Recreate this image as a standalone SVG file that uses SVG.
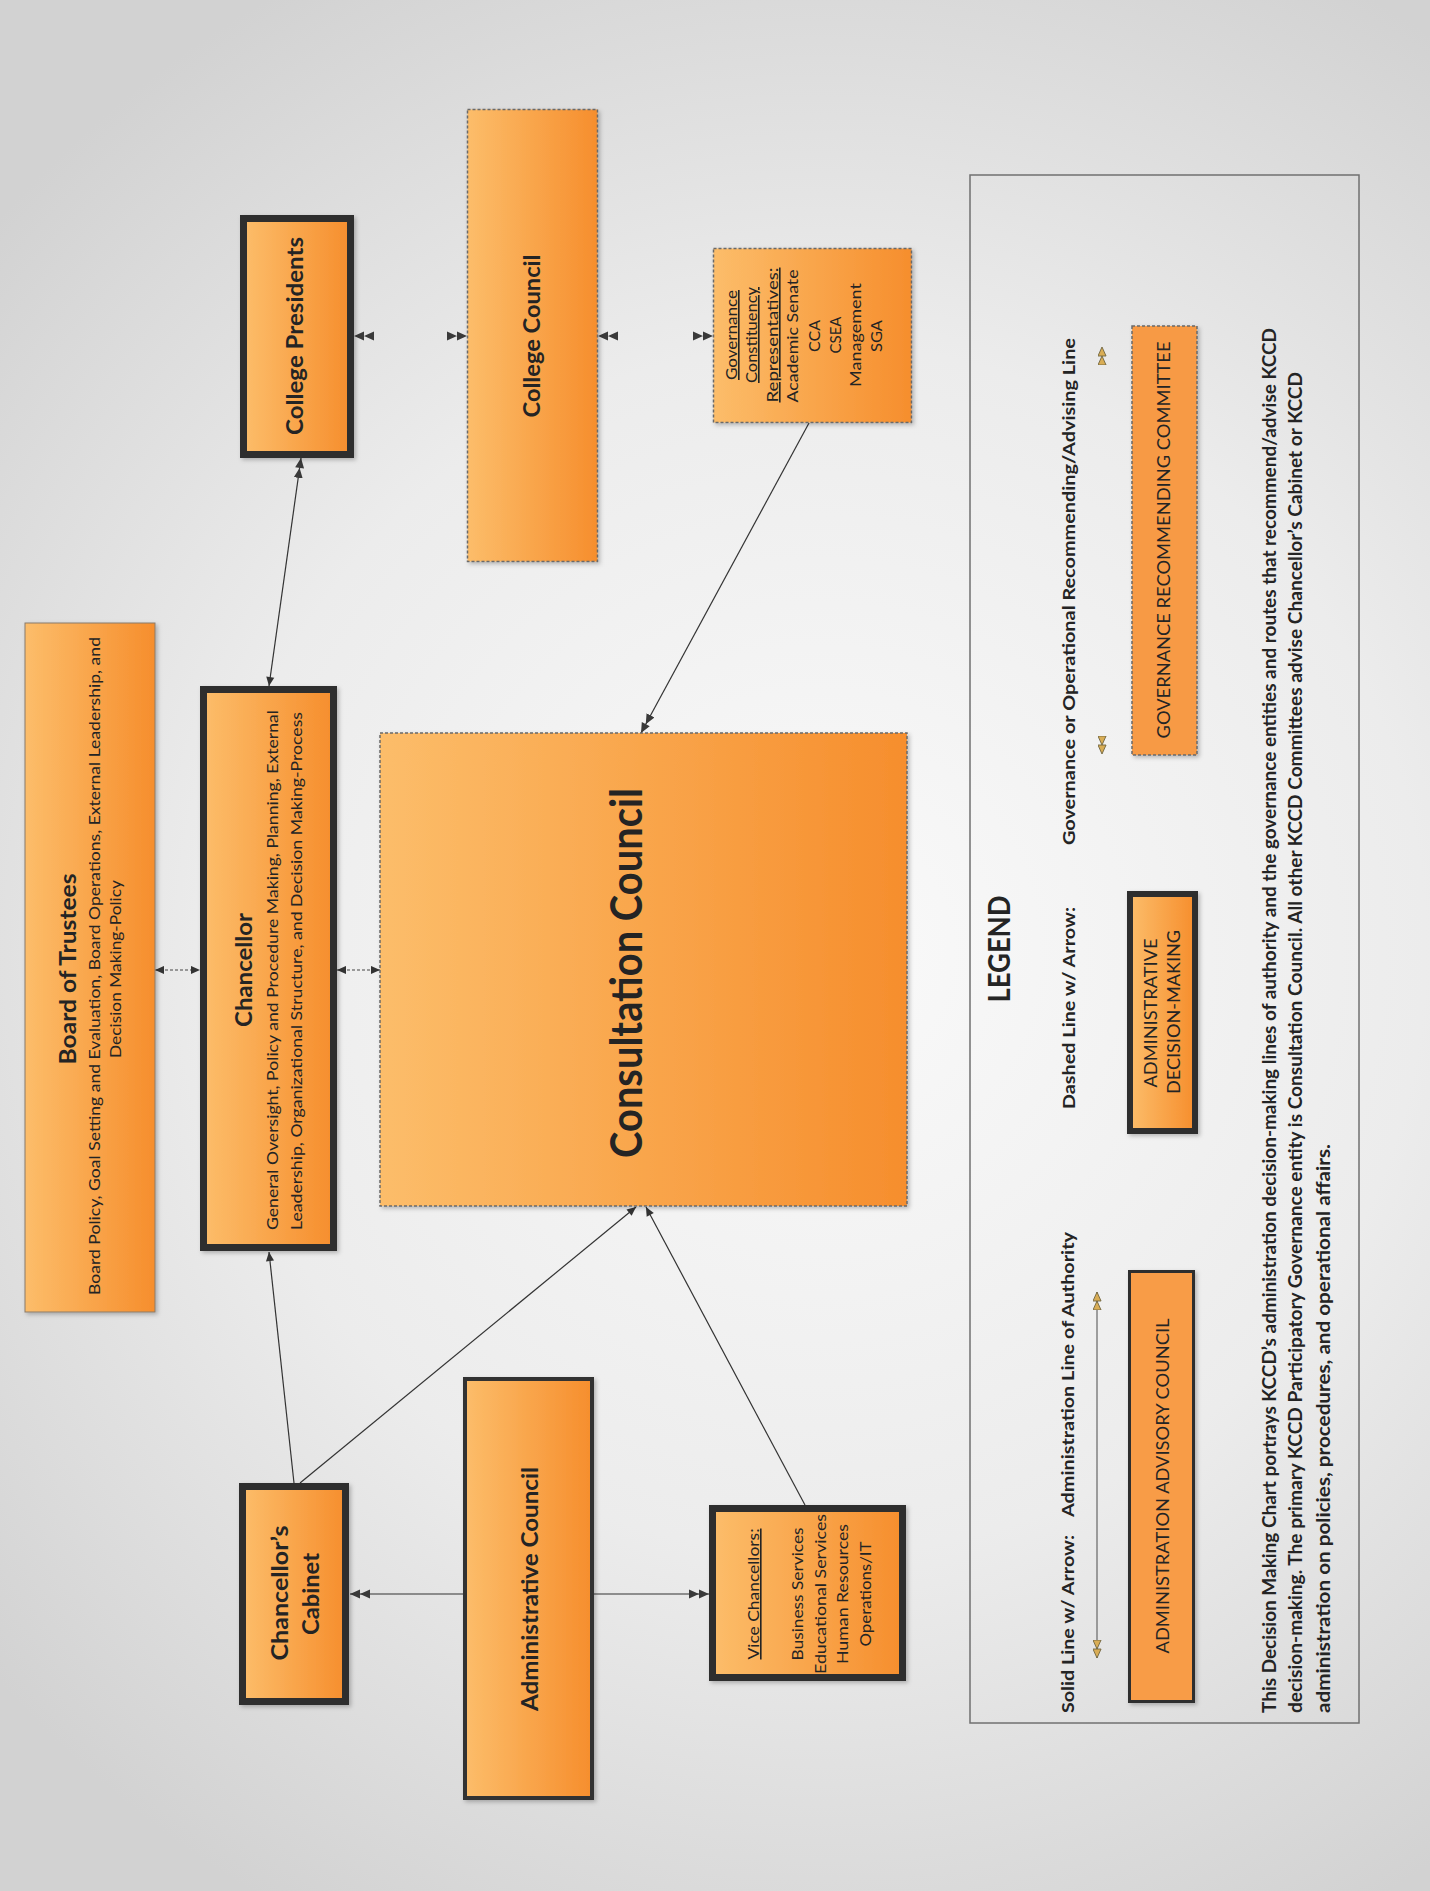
<svg xmlns="http://www.w3.org/2000/svg" width="1430" height="1891" viewBox="0 0 1430 1891">
<defs>
<radialGradient id="bg" cx="820" cy="950" r="1100" gradientUnits="userSpaceOnUse">
<stop offset="0" stop-color="#fafafa"/>
<stop offset="0.55" stop-color="#ececec"/>
<stop offset="1" stop-color="#d2d2d2"/>
</radialGradient>
<linearGradient id="og" x1="0" y1="0" x2="1" y2="0">
<stop offset="0" stop-color="#fcbd6a"/>
<stop offset="1" stop-color="#f68e2d"/>
</linearGradient>
<filter id="sh" x="-10%" y="-10%" width="130%" height="130%">
<feDropShadow dx="2" dy="2" stdDeviation="2" flood-color="#000" flood-opacity="0.25"/>
</filter>
<marker id="a1" viewBox="0 0 10 10" refX="10" refY="5" markerWidth="10" markerHeight="9" markerUnits="userSpaceOnUse" orient="auto-start-reverse">
<path d="M0,0.5 L10,5 L0,9.5 Z" fill="#333"/>
</marker>
<marker id="a2" viewBox="0 0 20 10" refX="20" refY="5" markerWidth="20" markerHeight="10" markerUnits="userSpaceOnUse" orient="auto-start-reverse">
<path d="M0,0.5 L10,5 L0,9.5 Z M10,0.5 L20,5 L10,9.5 Z" fill="#3a3a3a"/>
</marker>
<marker id="a3" viewBox="0 0 20 10" refX="20" refY="5" markerWidth="18" markerHeight="9" markerUnits="userSpaceOnUse" orient="auto-start-reverse">
<path d="M0,0.5 L10,5 L0,9.5 Z M10,0.5 L20,5 L10,9.5 Z" fill="#d9ad55" stroke="#6f6440" stroke-width="1"/>
</marker>
</defs>
<style>
.box{fill:url(#og);filter:url(#sh)}
.thick{stroke:#2e2e2e;stroke-width:7}
.med{stroke:#333;stroke-width:4}
.dash{stroke:#6a6a6a;stroke-width:1.5;stroke-dasharray:3 2}
.thin{stroke:#8a7a6a;stroke-width:1}
.t{font-family:Lato,"Liberation Sans",sans-serif;fill:#242424}
.b{font-weight:bold}
.c{text-anchor:middle}
.s{text-anchor:start}
.ln{fill:none;stroke:#333;stroke-width:1.2}
.dl{fill:none;stroke:#444;stroke-width:1.2;stroke-dasharray:3 2}
.inv{fill:none;stroke:none}
</style>
<rect x="0" y="0" width="1430" height="1891" fill="url(#bg)"/>

<g id="connectors">
<path class="ln" d="M269,686 L301,458" marker-start="url(#a1)" marker-end="url(#a2)"/>
<path class="ln" d="M294,1483 L269,1252" marker-end="url(#a1)"/>
<path class="ln" d="M300,1483 L636,1207" marker-end="url(#a1)"/>
<path class="ln" d="M805,1505 L646,1207" marker-end="url(#a1)"/>
<path class="ln" d="M809,423 L641,733" marker-end="url(#a2)"/>
<path class="ln" d="M463,1594 L350,1594" marker-end="url(#a2)"/>
<path class="ln" d="M594,1594 L709,1594" marker-end="url(#a2)"/>
<path class="dl" d="M155,970 L200,970" marker-start="url(#a1)" marker-end="url(#a1)"/>
<path class="dl" d="M337,970 L380,970" marker-start="url(#a1)" marker-end="url(#a1)"/>
<path class="inv" d="M354,336 L467,336" marker-start="url(#a2)" marker-end="url(#a2)"/>
<path class="inv" d="M598,336 L713,336" marker-start="url(#a2)" marker-end="url(#a2)"/>
</g>

<g id="board-of-trustees">
<rect class="box thin" x="25" y="623" width="130" height="689"/>
<text class="t b c" font-size="22" transform="translate(76,969) rotate(-90)" textLength="191" lengthAdjust="spacingAndGlyphs">Board of Trustees</text>
<text class="t c" font-size="15" transform="translate(100,966) rotate(-90)" textLength="658" lengthAdjust="spacingAndGlyphs">Board Policy, Goal Setting and Evaluation, Board Operations, External Leadership, and</text>
<text class="t c" font-size="15" transform="translate(121,969) rotate(-90)" textLength="178" lengthAdjust="spacingAndGlyphs">Decision Making-Policy</text>
</g>

<g id="chancellor">
<rect class="box thick" x="203.5" y="689.5" width="130" height="558"/>
<text class="t b c" font-size="22" transform="translate(252,970) rotate(-90)" textLength="114" lengthAdjust="spacingAndGlyphs">Chancellor</text>
<text class="t c" font-size="16" transform="translate(278,970) rotate(-90)" textLength="520" lengthAdjust="spacingAndGlyphs">General Oversight, Policy and Procedure Making, Planning, External</text>
<text class="t c" font-size="16" transform="translate(302,971) rotate(-90)" textLength="518" lengthAdjust="spacingAndGlyphs">Leadership, Organizational Structure, and Decision Making-Process</text>
</g>

<g id="college-presidents">
<rect class="box thick" x="243.5" y="218.5" width="107" height="236"/>
<text class="t b c" font-size="23" transform="translate(303,336) rotate(-90)" textLength="198" lengthAdjust="spacingAndGlyphs">College Presidents</text>
</g>

<g id="college-council">
<rect class="box dash" x="467.5" y="109.5" width="130" height="452"/>
<text class="t b c" font-size="23" transform="translate(540,336) rotate(-90)" textLength="163" lengthAdjust="spacingAndGlyphs">College Council</text>
</g>

<g id="governance-representatives">
<rect class="box dash" x="713.5" y="248.5" width="198" height="174"/>
<text class="t c" font-size="16" text-decoration="underline" transform="translate(737,335) rotate(-90)" textLength="90" lengthAdjust="spacingAndGlyphs">Governance</text>
<text class="t c" font-size="16" text-decoration="underline" transform="translate(757,335) rotate(-90)" textLength="96" lengthAdjust="spacingAndGlyphs">Constituency</text>
<text class="t c" font-size="16" text-decoration="underline" transform="translate(778,335) rotate(-90)" textLength="135" lengthAdjust="spacingAndGlyphs">Representatives:</text>
<text class="t c" font-size="16" transform="translate(798,336) rotate(-90)" textLength="133" lengthAdjust="spacingAndGlyphs">Academic Senate</text>
<text class="t c" font-size="16" transform="translate(820,336) rotate(-90)" textLength="32" lengthAdjust="spacingAndGlyphs">CCA</text>
<text class="t c" font-size="16" transform="translate(841,335) rotate(-90)" textLength="37" lengthAdjust="spacingAndGlyphs">CSEA</text>
<text class="t c" font-size="16" transform="translate(861,335) rotate(-90)" textLength="104" lengthAdjust="spacingAndGlyphs">Management</text>
<text class="t c" font-size="16" transform="translate(882,336) rotate(-90)" textLength="32" lengthAdjust="spacingAndGlyphs">SGA</text>
</g>

<g id="consultation-council">
<rect class="box dash" x="380" y="733" width="527" height="473"/>
<text class="t b c" font-size="43" transform="translate(642,973) rotate(-90)" textLength="370" lengthAdjust="spacingAndGlyphs">Consultation Council</text>
</g>

<g id="chancellors-cabinet">
<rect class="box thick" x="242.5" y="1486.5" width="103" height="215"/>
<text class="t b c" font-size="23" transform="translate(288,1593) rotate(-90)" textLength="135" lengthAdjust="spacingAndGlyphs">Chancellor’s</text>
<text class="t b c" font-size="23" transform="translate(319,1594) rotate(-90)" textLength="82" lengthAdjust="spacingAndGlyphs">Cabinet</text>
</g>

<g id="administrative-council">
<rect class="box med" x="465" y="1379" width="127" height="419"/>
<text class="t b c" font-size="23" transform="translate(538,1589) rotate(-90)" textLength="244" lengthAdjust="spacingAndGlyphs">Administrative Council</text>
</g>

<g id="vice-chancellors">
<rect class="box thick" x="712.5" y="1508.5" width="190" height="169"/>
<text class="t c" font-size="16" text-decoration="underline" transform="translate(759,1594) rotate(-90)" textLength="131" lengthAdjust="spacingAndGlyphs">Vice Chancellors:</text>
<text class="t c" font-size="16" transform="translate(803,1594) rotate(-90)" textLength="133" lengthAdjust="spacingAndGlyphs">Business Services</text>
<text class="t c" font-size="16" transform="translate(826,1594) rotate(-90)" textLength="160" lengthAdjust="spacingAndGlyphs">Educational Services</text>
<text class="t c" font-size="16" transform="translate(848,1594) rotate(-90)" textLength="140" lengthAdjust="spacingAndGlyphs">Human Resources</text>
<text class="t c" font-size="16" transform="translate(871,1594) rotate(-90)" textLength="105" lengthAdjust="spacingAndGlyphs">Operations/IT</text>
</g>

<g id="legend">
<rect x="970" y="175" width="389" height="1548" fill="none" stroke="#707070" stroke-width="1.5"/>
<text class="t b c" font-size="30" transform="translate(1010,949) rotate(-90)" textLength="107" lengthAdjust="spacingAndGlyphs">LEGEND</text>
<text class="t b s" font-size="17" transform="translate(1074,1713) rotate(-90)" textLength="178" lengthAdjust="spacingAndGlyphs">Solid Line w/ Arrow:</text>
<text class="t b s" font-size="17" transform="translate(1074,1517) rotate(-90)" textLength="285" lengthAdjust="spacingAndGlyphs">Administration Line of Authority</text>
<text class="t b s" font-size="17" transform="translate(1075,1109) rotate(-90)" textLength="202" lengthAdjust="spacingAndGlyphs">Dashed Line w/ Arrow:</text>
<text class="t b s" font-size="17" transform="translate(1075,845) rotate(-90)" textLength="507" lengthAdjust="spacingAndGlyphs">Governance or Operational Recommending/Advising Line</text>
<path d="M1097,1658 L1097,1292" fill="none" stroke="#666" stroke-width="1.2" marker-start="url(#a3)" marker-end="url(#a3)"/>
<path d="M1102,754 L1102,347" fill="none" stroke="none" marker-start="url(#a3)" marker-end="url(#a3)"/>
<g id="legend-admin-advisory">
<rect x="1129.5" y="1271.5" width="64" height="430" fill="#f89c47" stroke="#2e2e2e" stroke-width="3" filter="url(#sh)"/>
<text class="t c" font-size="17" transform="translate(1169,1486) rotate(-90)" textLength="335" lengthAdjust="spacingAndGlyphs">ADMINISTRATION ADVISORY COUNCIL</text>
</g>
<g id="legend-admin-decision">
<rect class="box" x="1130" y="894" width="65" height="237" stroke="#2e2e2e" stroke-width="6"/>
<text class="t c" font-size="17" transform="translate(1157,1013) rotate(-90)" textLength="149" lengthAdjust="spacingAndGlyphs">ADMINISTRATIVE</text>
<text class="t c" font-size="17" transform="translate(1180,1012) rotate(-90)" textLength="164" lengthAdjust="spacingAndGlyphs">DECISION-MAKING</text>
</g>
<g id="legend-governance-committee">
<rect x="1132" y="326" width="65" height="429" fill="#f79a45" stroke="#6a6a6a" stroke-width="1.5" stroke-dasharray="3 2" filter="url(#sh)"/>
<text class="t c" font-size="18" transform="translate(1170,540) rotate(-90)" textLength="397" lengthAdjust="spacingAndGlyphs">GOVERNANCE RECOMMENDING COMMITTEE</text>
</g>
<text class="t b s" font-size="18" transform="translate(1276,1713) rotate(-90)" textLength="1385" lengthAdjust="spacingAndGlyphs">This Decision Making Chart portrays KCCD’s administration decision-making lines of authority and the governance entities and routes that recommend/advise KCCD</text>
<text class="t b s" font-size="18" transform="translate(1302,1713) rotate(-90)" textLength="1341" lengthAdjust="spacingAndGlyphs">decision-making. The primary KCCD Participatory Governance entity is Consultation Council. All other KCCD Committees advise Chancellor’s Cabinet or KCCD</text>
<text class="t b s" font-size="18" transform="translate(1330,1713) rotate(-90)" textLength="569" lengthAdjust="spacingAndGlyphs">administration on policies, procedures, and operational affairs.</text>
</g>
</svg>
